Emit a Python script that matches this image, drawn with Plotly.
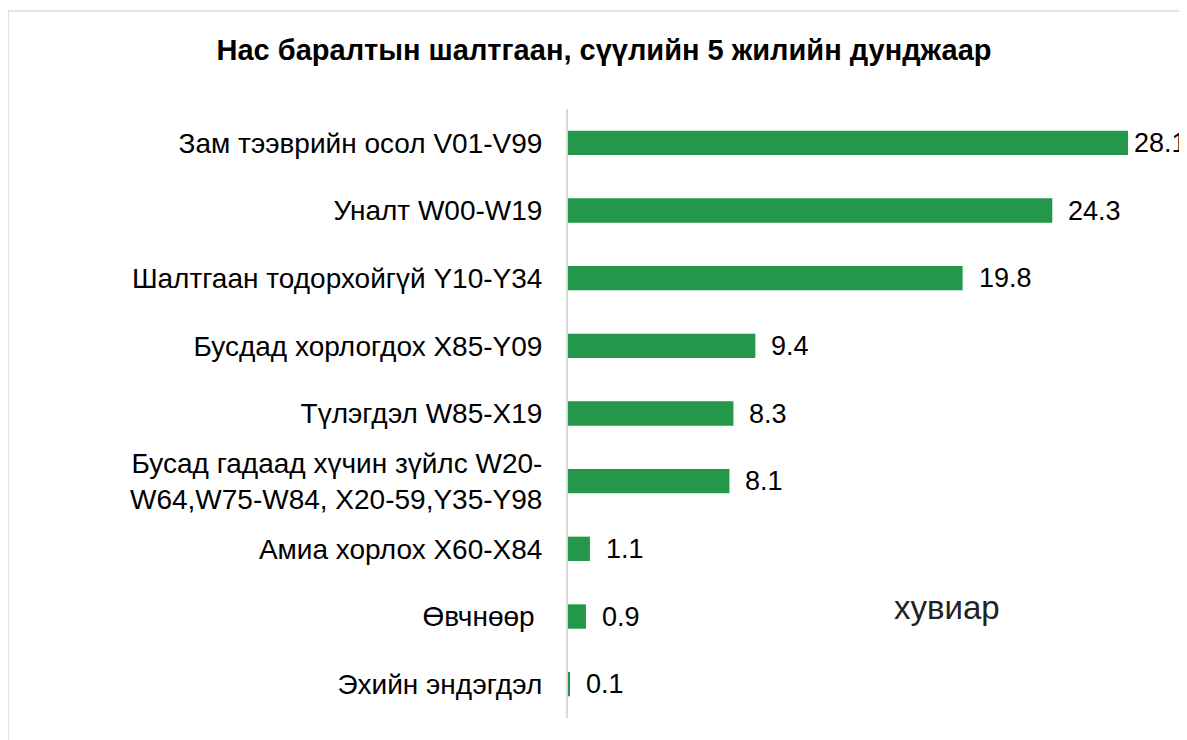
import plotly.graph_objects as go

categories = [
    "Зам тээврийн осол V01-V99",
    "Уналт W00-W19",
    "Шалтгаан тодорхойгүй Y10-Y34",
    "Бусдад хорлогдох X85-Y09",
    "Түлэгдэл W85-X19",
    "Бусад гадаад хүчин зүйлс W20-<br>W64,W75-W84, X20-59,Y35-Y98",
    "Амиа хорлох X60-X84",
    "Өвчнөөр ",
    "Эхийн эндэгдэл",
]
values = [28.1, 24.3, 19.8, 9.4, 8.3, 8.1, 1.1, 0.9, 0.1]
value_labels = ["28.1", "24.3", "19.8", "9.4", "8.3", "8.1", "1.1", "0.9", "0.1"]
title_text = "Нас баралтын шалтгаан, сүүлийн 5 жилийн дунджаар"
unit_text = "хувиар"

OFF = 8  # page body margin
W, H = 1187 - OFF, 740 - OFF
# screen-pixel layout of plot area
AX_L, AX_R, AX_T, AX_B = 568, 1150, 109, 718
L, T = AX_L - OFF, AX_T - OFF
R, B = W - (AX_R - OFF), H - (AX_B - OFF)
pw, ph = W - L - R, H - T - B
px_per_unit = 19.93
xmax = pw / px_per_unit

def px_x(p):
    return (p - AX_L) / pw

def px_y(p):
    return (AX_B - p) / ph

font = "Liberation Sans, Arial, sans-serif"
FS = 27

fig = go.Figure(go.Bar(
    y=categories, x=values, orientation="h",
    marker=dict(color="#23974a", line=dict(width=0)),
    width=0.36,
))

annotations = []
for c, v, t in zip(categories, values, value_labels):
    annotations.append(dict(
        x=v, y=c, xref="x", yref="y", text=t, showarrow=False,
        xanchor="left", yanchor="middle", xshift=4 if v > 27 else 14,
        font=dict(size=FS, color="#000000", family=font),
    ))
annotations.append(dict(
    text=unit_text, xref="paper", yref="paper", x=px_x(947), y=px_y(607),
    xanchor="center", yanchor="middle", showarrow=False,
    font=dict(size=33, color="#222222", family=font),
))

fig.update_layout(
    width=W, height=H,
    margin=dict(l=L, r=R, t=T, b=B, autoexpand=False),
    paper_bgcolor="white", plot_bgcolor="white",
    showlegend=False,
    title=dict(text="<b>" + title_text + "</b>", x=(604 - OFF) / W, xanchor="center",
               y=1 - (50 - OFF) / H, yanchor="middle",
               font=dict(size=29, color="#000000", family=font)),
    xaxis=dict(range=[0, xmax], visible=False, fixedrange=True),
    yaxis=dict(autorange="reversed", showline=True, linecolor="#d9d9d9", linewidth=2,
               showgrid=False, ticks="", ticklabelstandoff=18,
               tickfont=dict(size=28, color="#000000", family=font)),
    shapes=[
        dict(type="rect", xref="paper", yref="paper",
             x0=px_x(8), x1=px_x(1200), y0=px_y(760), y1=px_y(11),
             line=dict(color="#d9d9d9", width=1.5), fillcolor="rgba(0,0,0,0)", layer="below"),
    ],
    annotations=annotations,
)

fig.write_html("out.html")
